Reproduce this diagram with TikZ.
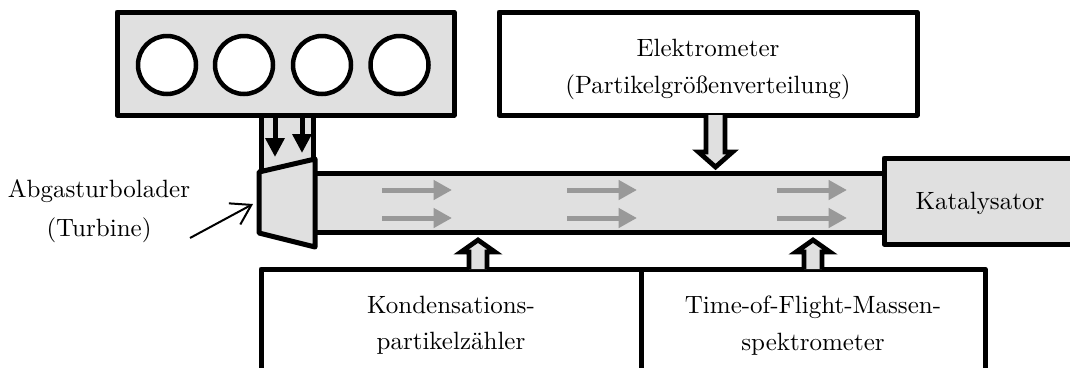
\documentclass[tikz,border=0pt]{standalone}
\usetikzlibrary{arrows.meta}
\definecolor{fillgray}{HTML}{E0E0E0}
\definecolor{flowgray}{HTML}{999999}
\tikzset{
  x=0.4pt,y=-0.4pt,
  heavy/.style={draw=black,line width=2pt,line join=round},
  boxshape/.style={heavy,rectangle,inner sep=0pt,outer sep=0pt,align=center,text depth=0pt},
  graybox/.style={boxshape,fill=fillgray},
  whitebox/.style={boxshape,fill=white},
  cyl/.style={circle,draw=black,fill=white,line width=1.8pt,inner sep=0pt,outer sep=0pt,minimum size=58*0.4pt},
  blockarr/.style={draw=black,fill=fillgray,line width=1.9pt,line join=miter,miter limit=10},
  flow/.style={draw=flowgray,line width=2pt,-{Triangle[length=7.4pt,width=7.6pt]}},
  exhaust/.style={draw=black,line width=2pt,-{Triangle[length=7.6pt,width=7.4pt]}},
  pointer/.style={draw=black,line width=0.8pt,-{Straight Barb[length=7.6pt,width=9.6pt,line width=0.8pt]}},
}
\begin{document}
\begin{tikzpicture}
\useasboundingbox (0,0) rectangle (1070,367);
\clip (0,0) rectangle (1070,367);

% pipe and catalyst
\node[graybox,minimum width=572*0.4pt,minimum height=59*0.4pt] (pipe) at (600,202.5) {};
\node[graybox,minimum width=192*0.4pt,minimum height=86*0.4pt] (kat) at (980,201) {Katalysator};

% duct
\path[fill=fillgray] (261,115) rectangle (313,170);
\coordinate (ductLa) at (261,115);
\coordinate (ductLb) at (261,172);
\coordinate (ductRa) at (313,115);
\coordinate (ductRb) at (313,160);
\draw[heavy] (ductLa) -- (ductLb);
\draw[heavy] (ductRa) -- (ductRb);

% engine
\node[graybox,minimum width=337*0.4pt,minimum height=103*0.4pt] (engine) at (285.5,63.5) {};
\node[cyl] (c1) at (167,65) {};
\node[cyl] (c2) at (244,65) {};
\node[cyl] (c3) at (322,65) {};
\node[cyl] (c4) at (399.5,65) {};

% exhaust arrows
\coordinate (exA) at (275,115);
\coordinate (exAe) at (275,157);
\coordinate (exB) at (302,115);
\coordinate (exBe) at (302,153);
\draw[exhaust] (exA) -- (exAe);
\draw[exhaust] (exB) -- (exBe);

% turbine
\draw[heavy,fill=fillgray] (259,172) -- (315,159) -- (315,247) -- (259,233) -- cycle;

% flow arrows
\foreach \xa/\xb/\n in {382/452/a,567/637/b,777/847/c}{
  \coordinate (f\n1s) at (\xa,190);
  \coordinate (f\n1e) at (\xb,190);
  \coordinate (f\n2s) at (\xa,218);
  \coordinate (f\n2e) at (\xb,218);
  \draw[flow] (f\n1s) -- (f\n1e);
  \draw[flow] (f\n2s) -- (f\n2e);
}

% measuring boxes
\node[whitebox,minimum width=418*0.4pt,minimum height=103*0.4pt] (elek) at (708,63.5)
  {\rule{0pt}{9pt}Elektrometer\\[3pt](Partikelgrößenverteilung)};
\node[whitebox,minimum width=380*0.4pt,minimum height=108*0.4pt] (kond) at (451,323)
  {Kondensations-\\[2.6pt]partikelzähler};
\node[whitebox,minimum width=344*0.4pt,minimum height=108*0.4pt] (tof) at (813,323)
  {Time-of-Flight-Massen-\\[2.6pt]spektrometer};

% block arrows
\coordinate (aE) at (715.5,115);
\coordinate (aK) at (478,269);
\coordinate (aT) at (813,269);
\draw[blockarr] (aE) ++(-9.5,0) -- ++(0,37) -- ++(-7.5,0) -- ++(17,15) -- ++(17,-15) -- ++(-7.5,0) -- ++(0,-37);
\draw[blockarr] (aK) ++(-9,0) -- ++(0,-17) -- ++(-8,0) -- ++(17,-12) -- ++(17,12) -- ++(-8,0) -- ++(0,17);
\draw[blockarr] (aT) ++(-9,0) -- ++(0,-17) -- ++(-8,0) -- ++(17,-12) -- ++(17,12) -- ++(-8,0) -- ++(0,17);

% label
\node[align=center,inner sep=0pt] (atl) at (99,211) {Abgasturbolader\\[3.6pt](Turbine)};
\coordinate (ptrS) at (190,238);
\coordinate (ptrE) at (253,204);
\draw[pointer] (ptrS) -- (ptrE);
\end{tikzpicture}
\end{document}
